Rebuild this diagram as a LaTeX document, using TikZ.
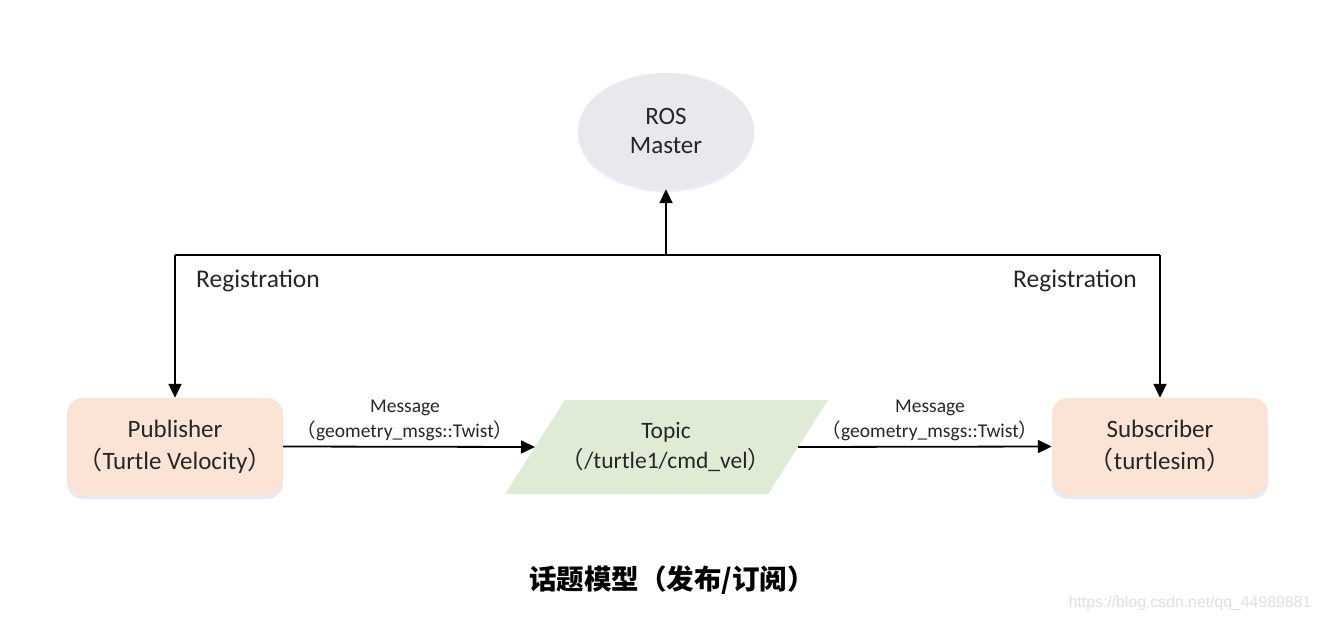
\documentclass[tikz,border=0pt]{standalone}
\usepackage{fontspec}
\setmainfont{Carlito}
\newfontfamily\cjk{Noto Sans CJK SC}
\newfontfamily\wmfont{Liberation Sans}
\usetikzlibrary{arrows.meta,shapes.geometric,shadows}
\definecolor{peach}{HTML}{FBE4D5}
\definecolor{mastergray}{HTML}{E8E8ED}
\definecolor{topicgreen}{HTML}{E0EBD6}
\definecolor{txt}{HTML}{262626}
\newcommand{\zlp}{{\cjk （}}
\newcommand{\zrp}{{\cjk ）}}
\tikzset{
  arr/.style={line width=1.8pt,-{Triangle[length=14pt,width=13pt]}},
  plain/.style={line width=1.8pt},
  boxnode/.style={rounded corners=16pt,fill=peach,minimum width=216pt,minimum height=97pt,
    align=center,font=\fontsize{25}{32}\selectfont,text=txt,
    drop shadow={shadow xshift=0pt,shadow yshift=-4pt,opacity=0.12,fill=blue!40!gray}},
  lbl/.style={font=\fontsize{19.5}{25}\selectfont,text=txt,align=center},
  reg/.style={font=\fontsize{25.5}{28}\selectfont,text=txt}
}
\begin{document}
\begin{tikzpicture}[x=1pt,y=-1pt]
\useasboundingbox (0,0) rectangle (1318,621);
\fill[white] (0,0) rectangle (1318,621);
% ROS Master
\node[ellipse,fill=mastergray,minimum width=176pt,minimum height=116pt,align=center,
  font=\fontsize{25}{29}\selectfont,text=txt,
  drop shadow={shadow xshift=0pt,shadow yshift=-3pt,opacity=0.10,fill=blue!40!gray}] (master) at (666,131) {ROS\\Master};
% Publisher / Subscriber
\node[boxnode] (pub) at (175,446.5) {Publisher\\\zlp Turtle Velocity\zrp};
\node[boxnode] (sub) at (1160,446.5) {Subscriber\\\zlp turtlesim\zrp};
% Topic parallelogram
\fill[topicgreen] (505,494) -- (565,400) -- (828,400) -- (768,494) -- cycle;
\node[align=center,font=\fontsize{23.5}{30}\selectfont,text=txt] (topic) at (666,447) {Topic\\\zlp/turtle1/cmd\_vel\zrp};
\coordinate (tW) at (535,447);
\coordinate (tE) at (798,447);
% Registration lines
\coordinate (j) at (666,255);
\coordinate (jl) at (175,255);
\coordinate (jr) at (1160,255);
\draw[plain] (jl) -- (jr);
\draw[arr] (j) -- (master.south);
\draw[arr] (jl) -- (pub.north);
\draw[arr] (jr) -- (sub.north);
\node[reg] (regl) at (258,281) {Registration};
\node[reg] (regr) at (1075,281) {Registration};
% Message arrows
\draw[arr] (pub.east) -- (tW);
\draw[arr] (tE) -- (sub.west);
\node[lbl] (m1) at (405,420) {Message\\\zlp geometry\_msgs::Twist\zrp};
\node[lbl] (m2) at (930,420) {Message\\\zlp geometry\_msgs::Twist\zrp};
% Caption
\node[font=\cjk\bfseries\fontsize{27.5}{32}\selectfont,text=black] (cap) at (672,580) {话题模型（发布/订阅）};
% Watermark
\node[font=\wmfont\fontsize{15.8}{18}\selectfont,text=black!12] (wm) at (1190,603) {https://blog.csdn.net/qq\_44989881};
\end{tikzpicture}
\end{document}
